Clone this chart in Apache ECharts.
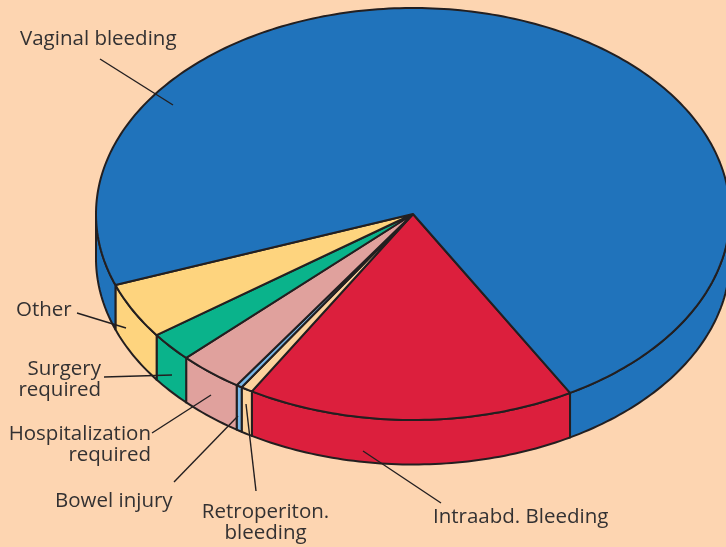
<!DOCTYPE html>
<html><head><meta charset="utf-8">
<style>html,body{margin:0;padding:0;background:#fdd5b1}#c{width:726px;height:547px}</style>
<script src="https://cdn.jsdelivr.net/npm/echarts@6/dist/echarts.min.js"></script>
</head><body><div id="c"></div>
<script>
const categories = ["Intraabd. Bleeding","Retroperiton. bleeding","Bowel injury","Hospitalization required","Surgery required","Other","Vaginal bleeding"];
const values = [16.72,0.6,0.3,3.3,2.3,4.4,72.28];
const sliceColors = ["#dc1f3d","#fcd39d","#79b8e8","#e0a19d","#0ab38b","#fed47e","#2073bb"];
const labelLines = [["Intraabd. Bleeding"],["Retroperiton.","bleeding"],["Bowel injury"],["Hospitalization","required"],["Surgery","required"],["Other"],["Vaginal bleeding"]];

// layout of the tilted disc
const CX=413, CY=214, RX=317, RY=206, DEPTH=44.5, START=60.3;
const INK="#231f20";
const labelLayout = [
 {x:433,y:517,align:"left",line:[441,503,363,451]},
 {x:265.5,y:512,align:"center",line:[256,491,246,404]},
 {x:55,y:501,align:"left",line:[174,482,238,416]},
 {x:151,y:434,align:"right",line:[152,433,211,395]},
 {x:101,y:369,align:"right",line:[104,377,172,375]},
 {x:16,y:310,align:"left",line:[77,313,126,328]},
 {x:20,y:39.5,align:"left",line:[100,59,173,105]}
];
const total = values.reduce((a,b)=>a+b,0);
const pt=(deg,dy)=>{const r=deg*Math.PI/180;return [CX+RX*Math.cos(r),CY+RY*Math.sin(r)+(dy||0)];};
function arc(a,b,dy){const n=Math.max(2,Math.ceil(Math.abs(b-a)));const o=[];for(let i=0;i<=n;i++)o.push(pt(a+(b-a)*i/n,dy));return o;}

function renderItem(params,api){
  const i=params.dataIndex, v=api.value(0);
  let before=0; for(let k=0;k<i;k++) before+=values[k];
  const a=START+before/total*360, b=a+v/total*360;
  const color=sliceColors[i], kids=[];
  [[0,180],[360,540]].forEach(([lo,hi])=>{
    const s=Math.max(a,lo), e=Math.min(b,hi);
    if(e>s){
      kids.push({type:"polygon",shape:{points:arc(s,e,0).concat(arc(e,s,DEPTH))},
        style:{fill:color,stroke:INK,lineWidth:2,lineJoin:"round"}});
    }
  });
  kids.push({type:"polygon",shape:{points:[[CX,CY]].concat(arc(a,b,0))},
    style:{fill:color,stroke:INK,lineWidth:2,lineJoin:"round"}});
  return {type:"group",children:kids};
}
function renderLabel(params,api){
  const i=params.dataIndex, L=labelLayout[i], kids=[];
  kids.push({type:"line",shape:{x1:L.line[0],y1:L.line[1],x2:L.line[2],y2:L.line[3]},style:{stroke:INK,lineWidth:1.4}});
  labelLines[i].forEach((t,k)=>{
    kids.push({type:"text",style:{text:t,x:L.x,y:L.y+k*21.5,textAlign:L.align,textVerticalAlign:"middle",
      fill:"#333132",font:'20.5px "Open Sans", sans-serif'}});
  });
  return {type:"group",children:kids};
}
const chart=echarts.init(document.getElementById("c"),null,{renderer:"canvas"});
chart.setOption({
  backgroundColor:"#fdd5b1",animation:false,
  series:[
   {type:"custom",name:"slices",coordinateSystem:"none",renderItem,data:values.map((v,i)=>({name:categories[i],value:[v]})),silent:true,z:1},
   {type:"custom",name:"labels",coordinateSystem:"none",renderItem:renderLabel,data:values.map((v,i)=>({name:categories[i],value:[v]})),silent:true,z:2}
  ]
});
</script></body></html>
